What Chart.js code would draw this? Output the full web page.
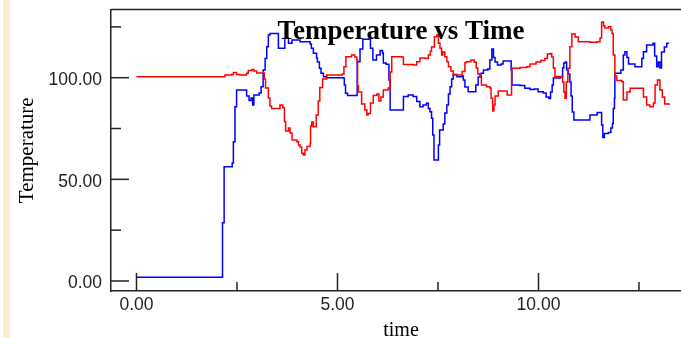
<!DOCTYPE html>
<html><head><meta charset="utf-8">
<script src="https://cdn.jsdelivr.net/npm/chart.js@4.4.0/dist/chart.umd.min.js"></script>
<style>
html,body{margin:0;padding:0;background:#fff;}
#wrap{position:relative;width:681px;height:338px;overflow:hidden;background:#fff;}
#strip{position:absolute;left:3px;top:0;width:7px;height:338px;background:#fdebd0;}
canvas{position:absolute;left:0;top:0;}
</style></head><body>
<div id="wrap"><div id="strip"></div><canvas id="c" width="681" height="338"></canvas></div>
<script>
const chartTitle = "Temperature vs Time";
const xAxisTitle = "time";
const yAxisTitle = "Temperature";
const xMajorTicks = [0, 5, 10];
const xMinorTicks = [2.5, 7.5, 12.5];
const yMajorTicks = [0, 50, 100];
const yMinorTicks = [25, 75, 125];

const blueTime = [0, 2.14, 2.14, 2.18, 2.18, 2.38, 2.38, 2.41, 2.45, 2.49,
  2.72, 2.74, 2.80, 2.85, 2.89, 2.92, 3.00, 3.05, 3.10, 3.15,
  3.20, 3.24, 3.28, 3.32, 3.49, 3.53, 3.64, 3.69, 3.78, 3.87,
  4.07, 4.32, 4.35, 4.40, 4.48, 4.50, 4.55, 4.59, 4.65, 4.73,
  5.13, 5.17, 5.20, 5.25, 5.46, 5.49, 5.56, 5.63, 5.77, 5.82,
  5.88, 5.97, 6.06, 6.12, 6.14, 6.21, 6.28, 6.31, 6.63, 6.64,
  6.76, 6.88, 6.97, 7.05, 7.13, 7.21, 7.26, 7.30, 7.34, 7.37,
  7.40, 7.49, 7.51, 7.54, 7.63, 7.67, 7.72, 7.76, 7.80, 7.84,
  7.88, 7.97, 8.05, 8.09, 8.13, 8.17, 8.25, 8.38, 8.44, 8.50,
  8.57, 8.63, 8.74, 8.79, 8.84, 8.88, 8.92, 8.98, 9.07, 9.12,
  9.30, 9.32, 9.34, 9.54, 9.66, 9.79, 9.89, 9.99, 10.12, 10.19,
  10.26, 10.30, 10.34, 10.37, 10.55, 10.60, 10.63, 10.67, 10.70, 10.74,
  10.78, 10.81, 10.84, 10.88, 11.16, 11.28, 11.46, 11.55, 11.57, 11.60,
  11.64, 11.74, 11.80, 11.84, 11.86, 11.89, 11.90, 12.05, 12.11, 12.15,
  12.20, 12.24, 12.40, 12.52, 12.57, 12.61, 12.69, 12.85, 12.89, 12.94,
  12.98, 13.02, 13.06, 13.13, 13.19, 13.25];
const blueTemp = [1.8, 1.8, 28.7, 28.7, 56.2, 56.2, 58, 68.5, 85.7, 94,
  94, 91, 88.8, 90, 86.6, 91.5, 91.5, 92.5, 95.6, 103.8,
  109.5, 115.2, 121, 121.8, 121.8, 114.5, 114.5, 119.4, 117, 118.5,
  117.7, 116.6, 114.5, 112, 109.7, 107.7, 104.6, 102.2, 100.5, 100,
  99.9, 96.4, 92.3, 91.2, 91.2, 107.9, 114.1, 118.9, 119, 114.5,
  108.7, 111.2, 113.4, 112.2, 107.2, 106.6, 98.9, 84.1, 84.1, 90.7,
  91.5, 90.7, 88.3, 85.7, 86.6, 87.4, 84.9, 83.3, 80, 71.8,
  59.5, 59.5, 66.9, 74.3, 77.2, 82.6, 86.6, 92, 95.6, 99.4,
  101.6, 100.5, 100.5, 100.8, 98.9, 95.4, 93.1, 93.1, 96.4, 100.3,
  102.2, 103.8, 104.3, 108.7, 114.1, 109.9, 107.7, 106.2, 106.7, 108.2,
  108.2, 103.8, 96.4, 96.2, 94.8, 94.2, 94.4, 93.1, 92.5, 90.5,
  89.8, 93, 96.4, 99.9, 100.5, 104.8, 107.2, 107.7, 103.8, 101.8,
  97.9, 91, 83.1, 79.2, 79.2, 81.7, 82.9, 82.9, 76.7, 70.6,
  72.6, 73, 75.3, 77.5, 84.9, 89.9, 102.2, 103.8, 111.2, 112.8,
  109.9, 106.7, 105.4, 105.4, 109.5, 112.8, 116.1, 116.9, 110.7, 105.4,
  107.7, 104.8, 112.6, 115.1, 116.9, 116.9];

const redTime = [0, 2.16, 2.20, 2.37, 2.41, 2.49, 2.57, 2.74, 2.78, 2.87,
  2.92, 2.99, 3.12, 3.18, 3.21, 3.28, 3.32, 3.36, 3.53, 3.57,
  3.64, 3.68, 3.71, 3.78, 3.82, 3.87, 3.99, 4.03, 4.07, 4.11,
  4.15, 4.19, 4.24, 4.32, 4.33, 4.36, 4.40, 4.47, 4.52, 4.56,
  4.63, 4.73, 5.12, 5.16, 5.21, 5.35, 5.43, 5.48, 5.50, 5.52,
  5.60, 5.68, 5.73, 5.76, 5.82, 5.89, 5.98, 6.03, 6.08, 6.14,
  6.26, 6.31, 6.35, 6.60, 6.64, 6.89, 6.97, 7.05, 7.18, 7.26,
  7.31, 7.34, 7.41, 7.47, 7.51, 7.55, 7.59, 7.62, 7.67, 7.72,
  7.76, 7.82, 7.88, 8.02, 8.10, 8.17, 8.21, 8.32, 8.40, 8.45,
  8.49, 8.54, 8.58, 8.71, 8.79, 8.82, 8.86, 8.89, 8.92, 9.00,
  9.12, 9.22, 9.32, 9.33, 9.54, 9.71, 9.79, 9.94, 10.06, 10.16,
  10.22, 10.29, 10.33, 10.37, 10.41, 10.56, 10.60, 10.63, 10.66, 10.69,
  10.73, 10.78, 10.83, 10.91, 10.99, 11.28, 11.46, 11.53, 11.57, 11.62,
  11.65, 11.74, 11.80, 11.83, 11.86, 11.90, 11.95, 12.07, 12.11, 12.20,
  12.28, 12.52, 12.61, 12.69, 12.77, 12.86, 12.90, 12.96, 13.02, 13.08,
  13.14, 13.25];
const redTemp = [100.5, 100.5, 101.3, 101.6, 102.5, 101.6, 101.3, 102.2, 103.5, 104,
  103.3, 102.3, 102.3, 99.4, 94.9, 90, 86.1, 84.9, 84.9, 86.6,
  85.3, 78.4, 73.8, 75.3, 72.8, 69.4, 68.5, 66.9, 65.9, 62.8,
  62, 64.4, 66.2, 67.6, 76.2, 78.2, 75.9, 81.7, 88.5, 95.2,
  99.4, 101.3, 101.8, 105.4, 110.3, 111.2, 110.2, 108.7, 95.9, 93,
  87.1, 84.1, 81.7, 82.4, 87.6, 91.2, 92, 88.5, 90.5, 94,
  94.9, 102.8, 110.3, 110.2, 106.5, 106.2, 107.9, 109.7, 109.4, 111.2,
  113.1, 115.1, 120.2, 121, 116.9, 114.5, 111.2, 112.6, 110.3, 107.9,
  105.4, 103.3, 101.3, 101.3, 103, 107.5, 107.9, 108.7, 107.7, 104.8,
  101.8, 100.5, 96.4, 95.6, 94.9, 89.9, 83.6, 86.6, 91, 93.5,
  93.5, 91.5, 91.5, 104.6, 105, 105.4, 106.7, 107.7, 108.5, 109.4,
  111.7, 111.9, 110.2, 104.8, 100.6, 100.6, 97.9, 93, 89.9, 97.9,
  104.6, 115.2, 121.5, 120, 117.7, 117.5, 117.7, 119.5, 127.4, 125.4,
  124.4, 125.1, 123.5, 121.7, 111.2, 100.8, 98.6, 98, 89, 93,
  94.8, 94.8, 90.5, 86.6, 85.7, 87.6, 96.4, 98.9, 93.9, 90.5,
  87.1, 86.6];

const toPoints = (ts, vs) => ts.map((t, i) => ({x: t, y: vs[i]}));

const AXIS_COLOR = '#222';
const TICK_FONT = {family: '"Liberation Sans", Arial, sans-serif', size: 17.5};

const decor = {
  id: 'decor',
  afterDatasetsDraw(chart) {
    const {ctx, chartArea: a, scales: {x, y}} = chart;
    ctx.save();
    ctx.strokeStyle = AXIS_COLOR;
    ctx.lineWidth = 1.5;
    const seg = (x1, y1, x2, y2) => { ctx.beginPath(); ctx.moveTo(x1, y1); ctx.lineTo(x2, y2); ctx.stroke(); };
    seg(a.left, a.top, a.right, a.top);
    yMajorTicks.forEach(v => { const p = y.getPixelForValue(v); seg(a.left, p, a.left + 18, p); });
    yMinorTicks.forEach(v => { const p = y.getPixelForValue(v); seg(a.left, p, a.left + 10, p); });
    xMajorTicks.forEach(v => { const p = x.getPixelForValue(v); seg(p, a.bottom, p, a.bottom - 18); });
    xMinorTicks.forEach(v => { const p = x.getPixelForValue(v); seg(p, a.bottom, p, a.bottom - 9); });

    const cx = (a.left + a.right) / 2 + 5;
    ctx.fillStyle = '#000';
    ctx.textAlign = 'center';
    ctx.textBaseline = 'alphabetic';
    ctx.font = 'bold 27px "Liberation Serif", "Times New Roman", serif';
    ctx.fillText(chartTitle, cx, a.top + 29);

    ctx.font = '20px "Liberation Serif", "Times New Roman", serif';
    ctx.fillText(xAxisTitle, cx, a.bottom + 45);

    ctx.translate(33, (a.top + a.bottom) / 2);
    ctx.rotate(-Math.PI / 2);
    ctx.font = '21px "Liberation Serif", "Times New Roman", serif';
    ctx.fillText(yAxisTitle, 0, 0);
    ctx.restore();
  }
};

const noPad = s => { s.paddingTop = 0; s.paddingBottom = 0; s.paddingLeft = 0; s.paddingRight = 0; };

new Chart(document.getElementById('c'), {
  type: 'line',
  data: {
    datasets: [
      {label: 'red', data: toPoints(redTime, redTemp), borderColor: '#ff0000', borderWidth: 1.5, pointRadius: 0, stepped: true, fill: false},
      {label: 'blue', data: toPoints(blueTime, blueTemp), borderColor: '#0000ff', borderWidth: 1.5, pointRadius: 0, stepped: true, fill: false}
    ]
  },
  options: {
    responsive: false,
    animation: false,
    devicePixelRatio: 1,
    layout: {padding: {left: 0, right: 0, top: 9.5, bottom: 0}},
    plugins: {legend: {display: false}, title: {display: false}, tooltip: {enabled: false}},
    scales: {
      x: {
        type: 'linear',
        min: -0.634, max: 13.545,
        afterFit: s => { s.height = 47; noPad(s); },
        afterBuildTicks: s => { s.ticks = xMajorTicks.map(v => ({value: v})); },
        ticks: {callback: v => Number(v).toFixed(2), font: TICK_FONT, color: AXIS_COLOR, padding: 4, autoSkip: false, maxRotation: 0},
        grid: {display: true, drawOnChartArea: false, drawTicks: false},
        border: {display: true, color: AXIS_COLOR, width: 1.5}
      },
      y: {
        type: 'linear',
        min: -4.92, max: 133.55,
        afterFit: s => { s.width = 111; noPad(s); },
        afterBuildTicks: s => { s.ticks = yMajorTicks.map(v => ({value: v})); },
        ticks: {callback: v => Number(v).toFixed(2), font: TICK_FONT, color: AXIS_COLOR, padding: 9, labelOffset: 2.5, autoSkip: false},
        grid: {display: true, drawOnChartArea: false, drawTicks: false},
        border: {display: true, color: AXIS_COLOR, width: 1.5}
      }
    }
  },
  plugins: [decor]
});
</script>
</body></html>
